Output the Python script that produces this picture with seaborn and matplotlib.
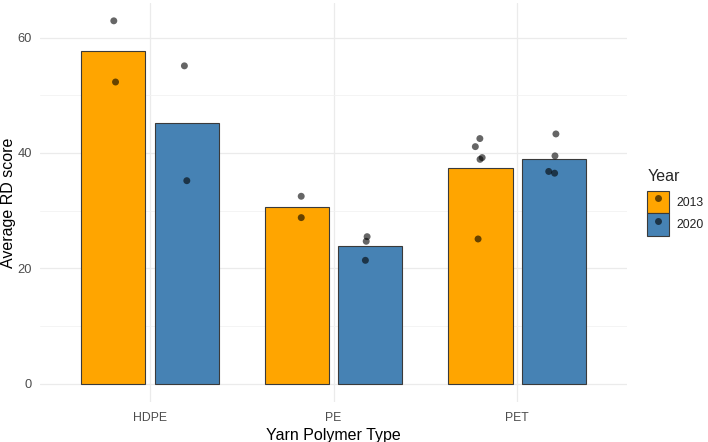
import numpy as np
import pandas as pd
import matplotlib
matplotlib.use("Agg")
import matplotlib.pyplot as plt
from matplotlib.patches import Patch
from matplotlib.lines import Line2D
from matplotlib.ticker import MultipleLocator
import seaborn as sns

# ---- data ----
polymers = ["HDPE", "PE", "PET"]
years = ["2013", "2020"]
hdpe_2013 = [62.9, 52.3]
hdpe_2020 = [55.1, 35.2]
pe_2013 = [32.5, 28.8]
pe_2020 = [24.7, 25.5, 21.4]
pet_2013 = [42.5, 41.1, 38.9, 39.2, 25.1]
pet_2020 = [43.3, 39.5, 36.8, 36.5]
palette = {"2013": "#FFA500", "2020": "#4682B4"}

groups = [("HDPE", "2013", hdpe_2013), ("HDPE", "2020", hdpe_2020),
          ("PE", "2013", pe_2013), ("PE", "2020", pe_2020),
          ("PET", "2013", pet_2013), ("PET", "2020", pet_2020)]
rows = []
for p, y, vals in groups:
    for v in vals:
        rows.append({"Polymer": p, "Year": y, "RD": v})
df = pd.DataFrame(rows)

sns.set_theme(style="white")
plt.rcParams["font.family"] = ["Liberation Sans", "DejaVu Sans"]

fig = plt.figure(figsize=(7.08, 4.42), dpi=100)
ax = fig.add_axes([0.0562, 0.0905, 0.8300, 0.9035])

sns.barplot(data=df, x="Polymer", y="RD", hue="Year", order=polymers,
            hue_order=years, palette=palette, estimator="mean", errorbar=None,
            width=0.8, gap=0.125, saturation=1, edgecolor="#3a3a3a",
            linewidth=0.8, legend=False, ax=ax, zorder=2)
np.random.seed(3)
sns.stripplot(data=df, x="Polymer", y="RD", hue="Year", order=polymers,
              hue_order=years, dodge=True, jitter=0.06,
              palette={"2013": "black", "2020": "black"}, alpha=0.6,
              size=5.0, linewidth=0, legend=False, ax=ax, zorder=3)

ax.set_xlim(-0.6, 2.6)
ax.set_ylim(-3.15, 66.05)
ax.yaxis.set_major_locator(MultipleLocator(20))
ax.yaxis.set_minor_locator(MultipleLocator(10))
ax.grid(True, which="major", color="#EBEBEB", linewidth=0.9, zorder=0)
ax.grid(True, which="minor", axis="y", color="#F2F2F2", linewidth=0.6, zorder=0)
ax.set_axisbelow(True)
for s in ax.spines.values():
    s.set_visible(False)
ax.tick_params(axis="both", which="both", length=0)
ax.tick_params(axis="y", pad=5.5, labelsize=9.3, labelcolor="#4D4D4D")
ax.tick_params(axis="x", pad=7, labelsize=8.8, labelcolor="#4D4D4D")
ax.set_xlabel("Yarn Polymer Type", fontsize=11.5, color="black", labelpad=3)
ax.set_ylabel("Average RD score", fontsize=11.5, color="black", labelpad=1)

handles = [(Patch(facecolor=palette[y], edgecolor="#3a3a3a", linewidth=0.8),
            Line2D([], [], marker="o", linestyle="", color="black", alpha=0.6,
                   markersize=5.0, markeredgewidth=0)) for y in years]
leg = fig.legend(handles, years, title="Year", loc="upper left",
                 bbox_to_anchor=(0.914, 0.618), frameon=False,
                 fontsize=8.8, title_fontsize=11.5, handlelength=1.8,
                 handleheight=2.45, handletextpad=0.6, labelspacing=0.0,
                 borderaxespad=0, borderpad=0)
leg._legend_box.align = "left"
leg._legend_box.sep = 5
for t in leg.get_texts():
    t.set_color("#222222")

fig.savefig("out.png", dpi=100)
